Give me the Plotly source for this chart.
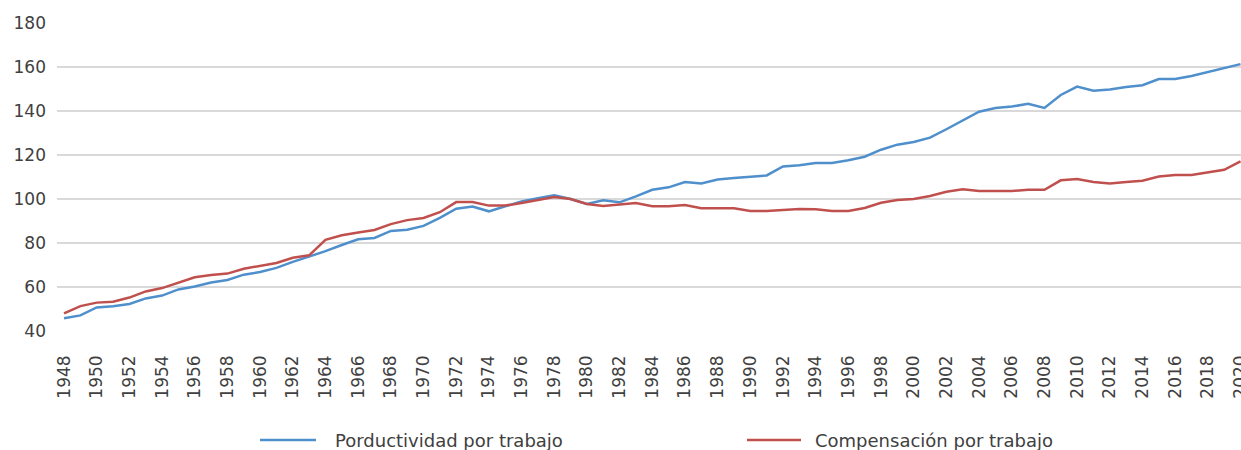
import plotly.graph_objects as go

years = list(range(1948, 2021))

productividad = [
    45.8, 47.1, 50.7, 51.3, 52.3, 54.8, 56.1, 58.9, 60.2, 62.0,
    63.2, 65.6, 66.8, 68.7, 71.4, 73.8, 76.3, 79.1, 81.7, 82.3,
    85.5, 86.0, 87.8, 91.4, 95.6, 96.6, 94.4, 96.7, 98.9, 100.3,
    101.7, 100.0, 97.7, 99.4, 98.5, 101.2, 104.2, 105.3, 107.7, 107.1,
    108.9, 109.5, 110.1, 110.7, 114.8, 115.3, 116.4, 116.4, 117.6, 119.2,
    122.4, 124.7, 125.9, 127.9, 131.7, 135.6, 139.7, 141.4, 142.0, 143.3,
    141.4, 147.3, 151.1, 149.2, 149.8, 150.9, 151.7, 154.5, 154.5, 155.9,
    157.7, 159.5, 161.3,
]

compensacion = [
    48.0, 51.3, 52.9, 53.3, 55.2, 58.0, 59.5, 62.0, 64.4, 65.5,
    66.1, 68.3, 69.5, 70.9, 73.3, 74.4, 81.4, 83.5, 84.8, 85.9,
    88.6, 90.4, 91.4, 94.0, 98.6, 98.6, 97.0, 97.0, 98.2, 99.5,
    100.9, 100.0, 97.7, 96.8, 97.4, 98.2, 96.7, 96.7, 97.3, 95.8,
    95.8, 95.8, 94.6, 94.6, 95.0, 95.4, 95.3, 94.5, 94.5, 95.9,
    98.3, 99.5, 100.0, 101.4, 103.3, 104.4, 103.6, 103.6, 103.6, 104.2,
    104.2, 108.5, 109.1, 107.7, 107.1, 107.7, 108.3, 110.2, 110.9, 110.9,
    112.1, 113.3, 117.1,
]

y_ticks = [40, 60, 80, 100, 120, 140, 160, 180]

series_names = ["Porductividad por trabajo", "Compensación por trabajo"]
colors = ["#4F8FCC", "#C0504D"]

# figure geometry (body margin removed in the page)
FIG_W, FIG_H = 1241, 450
M_L, M_R, M_T, M_B = 57, 0, 23, 119
PLOT_W = FIG_W - M_L - M_R
PLOT_H = FIG_H - M_T - M_B


def px_to_paper_x(page_x):
    return (page_x - M_L) / PLOT_W


def px_to_paper_y(page_y):
    return (FIG_H - M_B - page_y) / PLOT_H


fig = go.Figure()
for name, vals, col in zip(series_names, [productividad, compensacion], colors):
    fig.add_trace(go.Scatter(
        x=years, y=vals, mode="lines", name=name,
        line=dict(color=col, width=2.5), showlegend=False,
    ))

font_family = "DejaVu Sans, Verdana, sans-serif"

# custom legend (line sample + label)
legend_slots = [(260, 316, 333), (747, 801, 813)]
legend_y = px_to_paper_y(440)
shapes = []
annotations = []
for name, col, (x0, x1, xt) in zip(series_names, colors, legend_slots):
    shapes.append(dict(
        type="line", xref="paper", yref="paper",
        x0=px_to_paper_x(x0), x1=px_to_paper_x(x1), y0=legend_y, y1=legend_y,
        line=dict(color=col, width=2.5),
    ))
    annotations.append(dict(
        text=name, xref="paper", yref="paper",
        x=px_to_paper_x(xt), y=legend_y, xanchor="left", yanchor="middle",
        showarrow=False, font=dict(size=18, color="#404040", family=font_family),
    ))

fig.update_layout(
    width=FIG_W, height=FIG_H,
    margin=dict(l=M_L, r=M_R, t=M_T, b=M_B, pad=0),
    paper_bgcolor="white", plot_bgcolor="white",
    font=dict(family=font_family, size=17, color="#404040"),
    showlegend=False,
    shapes=shapes,
    annotations=annotations,
    xaxis=dict(
        range=[1947.57, 2020.03], automargin=False,
        tickmode="array", tickvals=years[::2], ticktext=[str(y) for y in years[::2]],
        tickangle=-90, showgrid=False, zeroline=False, showline=False,
        ticks="", ticklabelstandoff=20, ticklabeloverflow="allow",
        tickfont=dict(size=17, color="#404040"),
    ),
    yaxis=dict(
        range=[40, 180], tickvals=y_ticks, automargin=False,
        showgrid=True, gridcolor="#D9D9D9", gridwidth=2,
        zeroline=False, showline=False, ticks="",
        ticklabelstandoff=10,
        tickfont=dict(size=17, color="#404040"),
    ),
)

fig.write_html(
    "out.html",
    config={"displayModeBar": False},
    post_script="document.body.style.margin='0';document.body.style.overflow='hidden';",
)
